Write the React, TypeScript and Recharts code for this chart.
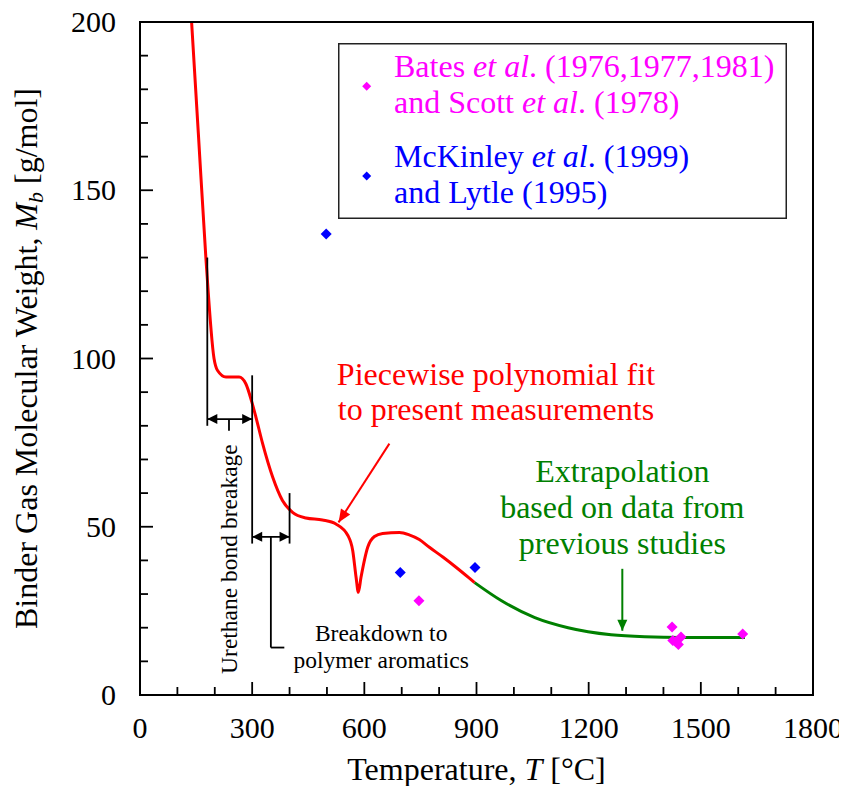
import {
  ComposedChart,
  Label,
  Legend,
  Line,
  ReferenceDot,
  ReferenceLine,
  Scatter,
  XAxis,
  YAxis,
} from 'recharts'

const FONT = '"Liberation Serif", "Times New Roman", Times, serif'

// piecewise polynomial fit (red)
const fitT = [138, 156, 176, 198, 207, 230, 265, 283, 299, 310, 328, 355, 381, 408, 444, 488, 524, 556, 569, 578, 584, 591, 609, 627, 649, 694, 720, 747, 774, 810, 846, 880, 895]
const fitM = [200, 167, 130.3, 100, 96.5, 94.5, 94.5, 92.5, 87.1, 82.6, 74.7, 64.7, 57.8, 54.3, 52.6, 52, 50.8, 47.4, 42.9, 34.9, 30.5, 34.9, 43.9, 47.1, 48, 48.3, 47.6, 46.2, 43.9, 41, 37.9, 34.8, 33.4]

// extrapolation (green)
const extT = [895, 967, 1056, 1145, 1260, 1350, 1450, 1618]
const extM = [33.4, 28, 23, 20, 17.9, 17.3, 17.1, 17.1]

// literature data
const batesT = [746, 1423, 1425, 1433, 1440, 1447, 1612]
const batesM = [28, 20.2, 16.2, 15.8, 15, 17.2, 18.1]
const mckT = [498, 696, 896]
const mckM = [137, 36.4, 37.9]

const xMajor = [0, 300, 600, 900, 1200, 1500, 1800]
const xMinor = [0, 100, 200, 300, 400, 500, 600, 700, 800, 900, 1000, 1100, 1200, 1300, 1400, 1500, 1600, 1700, 1800]
const yMajor = [0, 50, 100, 150, 200]
const yMinor = [0, 10, 20, 30, 40, 50, 60, 70, 80, 90, 100, 110, 120, 130, 140, 150, 160, 170, 180, 190, 200]

const zip = (t: number[], m: number[]) => t.map((T, i) => ({ T, M: m[i] }))
const fitData = zip(fitT, fitM)
const extData = zip(extT, extM)
const batesData = zip(batesT, batesM)
const mckData = zip(mckT, mckM)

const RED = '#ff0000'
const GREEN = '#008000'
const MAGENTA = '#ff00ff'
const BLUE = '#0000ff'
const serif = { fontFamily: FONT }

const diamond = (color: string, h: number) => (p: any) => (
  <polygon
    points={`${p.cx},${p.cy - h} ${p.cx + h},${p.cy} ${p.cx},${p.cy + h} ${p.cx - h},${p.cy}`}
    fill={color}
  />
)

// inward ticks drawn by hand; tickSize/tickMargin are 0 so (x, y) sits on the frame
const TICK_STROKE = { stroke: '#000', strokeWidth: 1.8 }
const makeTick = (side: 'bottom' | 'top' | 'left' | 'right') => (p: any) => {
  const v = p.payload.value
  const major = side === 'bottom' || side === 'top' ? xMajor.includes(v) : yMajor.includes(v)
  const len = major ? 13 : 8
  const { x, y } = p
  let line
  if (side === 'bottom') line = <line x1={x} x2={x} y1={y} y2={y - len} {...TICK_STROKE} />
  else if (side === 'top') line = <line x1={x} x2={x} y1={y} y2={y + len} {...TICK_STROKE} />
  else if (side === 'left') line = <line x1={x} x2={x + len} y1={y} y2={y} {...TICK_STROKE} />
  else line = <line x1={x} x2={x - len} y1={y} y2={y} {...TICK_STROKE} />
  return (
    <g>
      {line}
      {major && side === 'bottom' && (
        <text x={x} y={y + 43} textAnchor="middle" style={serif} fontSize={30} fill="#000">
          {v}
        </text>
      )}
      {major && side === 'left' && (
        <text x={x - 24} y={y + 10} textAnchor="end" style={serif} fontSize={30} fill="#000">
          {v}
        </text>
      )}
    </g>
  )
}

// line with filled arrow heads; head at the second point, or at both ends
const arrow = (color: string, both: boolean, len: number, half: number, sw: number) => (p: any) => {
  const { x1, y1, x2, y2 } = p
  const dx = x2 - x1
  const dy = y2 - y1
  const d = Math.hypot(dx, dy) || 1
  const ux = dx / d
  const uy = dy / d
  const head = (tx: number, ty: number, sx: number, sy: number) => {
    const bx = tx - sx * len
    const by = ty - sy * len
    return `${tx},${ty} ${bx - sy * half},${by + sx * half} ${bx + sy * half},${by - sx * half}`
  }
  return (
    <g>
      <line x1={x1} y1={y1} x2={x2} y2={y2} stroke={color} strokeWidth={sw} />
      <polygon points={head(x2, y2, ux, uy)} fill={color} />
      {both && <polygon points={head(x1, y1, -ux, -uy)} fill={color} />}
    </g>
  )
}

const plainLine = (p: any) => (
  <line x1={p.x1} y1={p.y1} x2={p.x2} y2={p.y2} stroke="#000" strokeWidth={1.8} />
)

const textBlock = (lines: string[], color: string, size: number, gap: number) => (p: any) => (
  <text x={p.cx} y={p.cy} textAnchor="middle" fill={color} style={serif} fontSize={size}>
    {lines.map((l, i) => (
      <tspan key={i} x={p.cx} dy={i === 0 ? 0 : gap}>
        {l}
      </tspan>
    ))}
  </text>
)

const rotatedText = (p: any) => (
  <text
    x={p.cx}
    y={p.cy}
    transform={`rotate(-90 ${p.cx} ${p.cy})`}
    textAnchor="middle"
    fill="#000"
    style={serif}
    fontSize={23.5}
  >
    Urethane bond breakage
  </text>
)

const XTitle = (props: any) => {
  const { x, y, width } = props.viewBox
  return (
    <text x={x + width / 2} y={y + 85} textAnchor="middle" style={serif} fontSize={32} fill="#000">
      Temperature, <tspan fontStyle="italic">T</tspan> [°C]
    </text>
  )
}

const YTitle = (props: any) => {
  const { x, y, width, height } = props.viewBox
  const cx = x + width - 103
  const cy = y + height / 2
  return (
    <text
      x={cx}
      y={cy}
      transform={`rotate(-90 ${cx} ${cy})`}
      textAnchor="middle"
      style={serif}
      fontSize={32}
      fill="#000"
    >
      Binder Gas Molecular Weight, <tspan fontStyle="italic">M</tspan>
      <tspan fontStyle="italic" fontSize={22} dy={6}>b</tspan>
      <tspan dy={-6}> [g/mol]</tspan>
    </text>
  )
}

const LegendBox = () => (
  <svg width={449} height={176} style={{ display: 'block' }}>
    <rect x={0.75} y={0.75} width={447.5} height={174.5} fill="#fff" stroke="#222" strokeWidth={1.5} />
    {diamond(MAGENTA, 4.5)({ cx: 28.7, cy: 43.3 })}
    {diamond(BLUE, 4.5)({ cx: 28.7, cy: 133 })}
    <text style={serif} fontSize={32} fill={MAGENTA}>
      <tspan x={56} y={34}>
        Bates <tspan fontStyle="italic">et al</tspan>. (1976,1977,1981)
      </tspan>
      <tspan x={56} y={70.3}>
        and Scott <tspan fontStyle="italic">et al</tspan>. (1978)
      </tspan>
    </text>
    <text style={serif} fontSize={32} fill={BLUE}>
      <tspan x={56} y={124}>
        McKinley <tspan fontStyle="italic">et al</tspan>. (1999)
      </tspan>
      <tspan x={56} y={160.3}>
        and Lytle (1995)
      </tspan>
    </text>
  </svg>
)

const axisLine = { stroke: '#000', strokeWidth: 2, strokeLinecap: 'square' as const }

export default function App() {
  const ids = { xAxisId: 'b', yAxisId: 'l' }
  const frame = { interval: 0 as const, tickSize: 0, tickMargin: 0, tickLine: false, axisLine }
  return (
    <div style={{ width: 839, height: 778, background: '#fff', fontFamily: FONT }}>
      <style>{`.recharts-surface { overflow: visible; } .recharts-wrapper text { font-family: ${FONT}; }`}</style>
      <ComposedChart width={839} height={778} margin={{ top: 13, right: 33, bottom: 90, left: 131 }}>
        <XAxis xAxisId="b" type="number" dataKey="T" domain={[0, 1800]} ticks={xMinor} height={1} tick={makeTick('bottom')} allowDataOverflow {...frame}>
          <Label content={XTitle} />
        </XAxis>
        <XAxis xAxisId="t" orientation="top" type="number" domain={[0, 1800]} ticks={xMinor} height={1} tick={makeTick('top')} {...frame} />
        <YAxis yAxisId="l" type="number" dataKey="M" domain={[0, 200]} ticks={yMinor} width={1} tick={makeTick('left')} allowDataOverflow {...frame}>
          <Label content={YTitle} />
        </YAxis>
        <YAxis yAxisId="r" orientation="right" type="number" domain={[0, 200]} ticks={yMinor} width={1} tick={makeTick('right')} {...frame} />

        <Line {...ids} data={fitData} dataKey="M" type="monotone" stroke={RED} strokeWidth={3} dot={false} isAnimationActive={false} legendType="none" />
        <Line {...ids} data={extData} dataKey="M" type="monotone" stroke={GREEN} strokeWidth={3} dot={false} isAnimationActive={false} legendType="none" />
        <Scatter {...ids} name="Bates et al. (1976,1977,1981) and Scott et al. (1978)" data={batesData} dataKey="M" fill={MAGENTA} shape={diamond(MAGENTA, 5.5)} isAnimationActive={false} />
        <Scatter {...ids} name="McKinley et al. (1999) and Lytle (1995)" data={mckData} dataKey="M" fill={BLUE} shape={diamond(BLUE, 5.5)} isAnimationActive={false} />

        {/* black bracket annotations */}
        <ReferenceLine {...ids} segment={[{ x: 180, y: 130 }, { x: 180, y: 80 }]} shape={plainLine} />
        <ReferenceLine {...ids} segment={[{ x: 300, y: 95 }, { x: 300, y: 45 }]} shape={plainLine} />
        <ReferenceLine {...ids} segment={[{ x: 400, y: 60 }, { x: 400, y: 45 }]} shape={plainLine} />
        <ReferenceLine {...ids} segment={[{ x: 180, y: 82 }, { x: 300, y: 82 }]} shape={arrow('#000', true, 10, 5, 1.8)} />
        <ReferenceLine {...ids} segment={[{ x: 300, y: 47 }, { x: 400, y: 47 }]} shape={arrow('#000', true, 10, 5, 1.8)} />
        <ReferenceLine {...ids} segment={[{ x: 238, y: 82 }, { x: 238, y: 78.5 }]} shape={plainLine} />
        <ReferenceLine {...ids} segment={[{ x: 350, y: 47 }, { x: 350, y: 14.1 }]} shape={plainLine} />
        <ReferenceLine {...ids} segment={[{ x: 350, y: 14.1 }, { x: 386, y: 14.1 }]} shape={plainLine} />
        <ReferenceDot {...ids} x={260.6} y={40.4} r={0} shape={rotatedText} />
        <ReferenceDot {...ids} x={645} y={16.1} r={0} shape={textBlock(['Breakdown to', 'polymer aromatics'], '#000', 23.5, 27)} />

        {/* fit and extrapolation callouts */}
        <ReferenceLine {...ids} segment={[{ x: 667, y: 74.7 }, { x: 531, y: 51.3 }]} shape={arrow(RED, false, 13, 5.5, 2)} />
        <ReferenceDot {...ids} x={952} y={92} r={0} shape={textBlock(['Piecewise polynomial fit', 'to present measurements'], RED, 32, 35)} />
        <ReferenceLine {...ids} segment={[{ x: 1290, y: 37.5 }, { x: 1290, y: 19.1 }]} shape={arrow(GREEN, false, 11, 5, 2)} />
        <ReferenceDot {...ids} x={1290} y={63.2} r={0} shape={textBlock(['Extrapolation', 'based on data from', 'previous studies'], GREEN, 32, 36)} />

        <Legend
          layout="vertical"
          align="center"
          verticalAlign="middle"
          content={LegendBox}
          wrapperStyle={{ left: 330, top: 34.7, width: 449, height: 176 }}
        />
      </ComposedChart>
    </div>
  )
}
